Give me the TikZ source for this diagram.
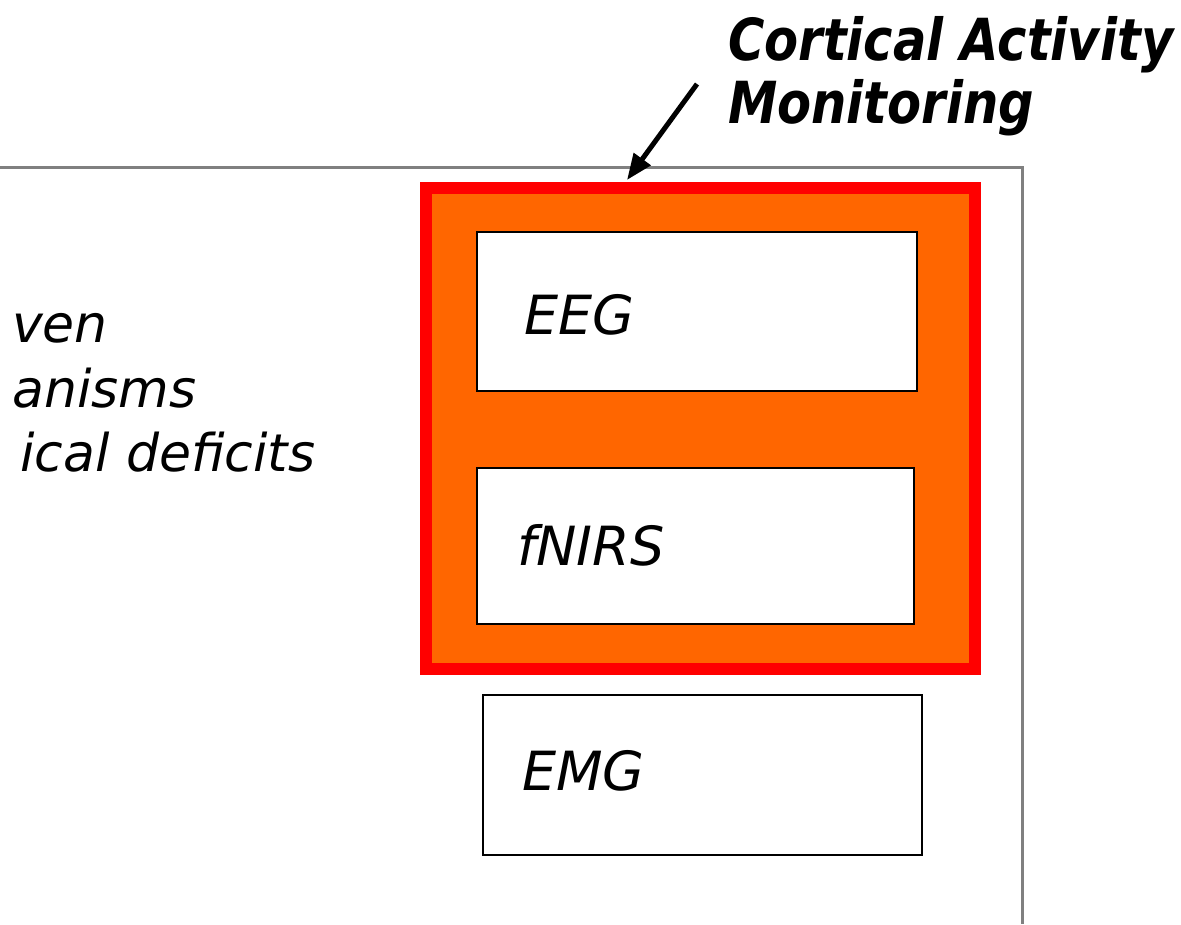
\documentclass[tikz,border=0pt]{standalone}
\usepackage{fontspec}
\setmainfont{DejaVu Sans}
\newfontfamily\titlefont[FakeStretch=0.855]{DejaVu Sans}
\usetikzlibrary{arrows.meta}
\definecolor{orng}{HTML}{FF6600}
\definecolor{rd}{HTML}{FF0000}
\definecolor{frm}{HTML}{808080}
\tikzset{
  frameline/.style={draw=frm, line width=3pt},
  cortical/.style={draw=rd, fill=orng, line width=12pt, inner sep=0pt, minimum width=549pt, minimum height=481pt},
  sigbox/.style={draw=black, fill=white, line width=2.2pt, inner sep=0pt},
  lbl/.style={anchor=base west, inner sep=0pt, font=\fontsize{54}{60}\selectfont\itshape},
  side/.style={anchor=base west, inner sep=0pt, font=\fontsize{52}{60}\selectfont\itshape},
  ttl/.style={anchor=base west, inner sep=0pt, font=\titlefont\fontsize{58}{60}\selectfont\bfseries\itshape},
  pointer/.style={draw=black, line width=5pt, -{Triangle[length=26pt, width=20pt]}}
}
\begin{document}
\begin{tikzpicture}[x=1pt, y=-1pt]
\useasboundingbox (0,0) rectangle (1181,924);
% outer frame
\coordinate (fl) at (0,167);
\coordinate (fc) at (1022,167);
\coordinate (fb) at (1022,924);
\draw[frameline] (fl) -- (fc) -- (fb);
% left text fragments
\node[side] (s1) at (12,342) {ven};
\node[side] (s2) at (12,407) {anisms};
\node[side] (s3) at (20,471) {ical deficits};
% cortical activity monitoring box
\node[cortical] (cam) at (700.5,428.5) {};
\node[sigbox, minimum width=440pt, minimum height=159pt] (eeg) at (697,311.5) {};
\node[sigbox, minimum width=437pt, minimum height=156pt] (fnirs) at (695.5,546) {};
\node[sigbox, minimum width=439pt, minimum height=160pt] (emg) at (702.5,775) {};
\node[lbl] (eegt) at (524,334) {EEG};
\node[lbl] (fnirst) at (517,565) {fNIRS};
\node[lbl] (emgt) at (522,790) {EMG};
% title
\node[ttl] (t1) at (728,60) {Cortical Activity};
\node[ttl] (t2) at (728,123) {Monitoring};
\coordinate (as) at (697,84);
\coordinate (at) at (627,180);
\draw[pointer] (as) -- (at);
\end{tikzpicture}
\end{document}
